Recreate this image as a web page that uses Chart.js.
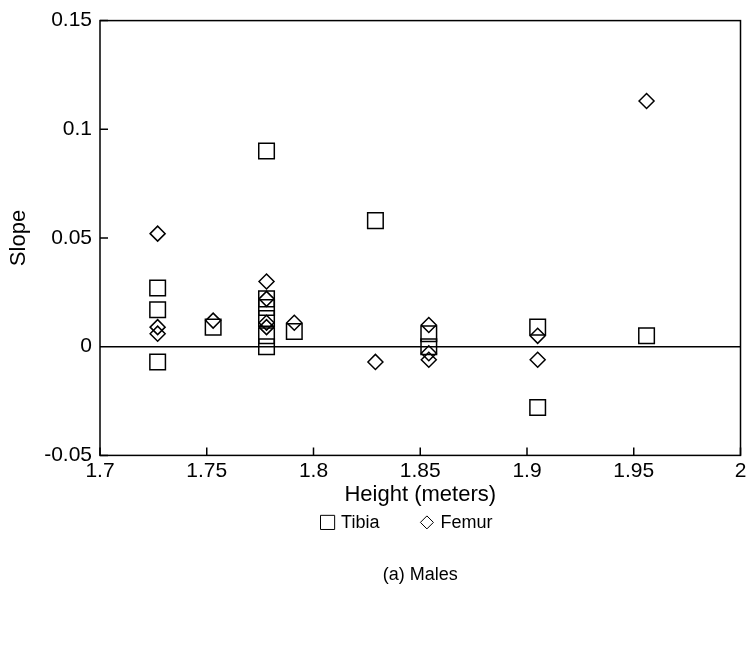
<!DOCTYPE html>
<html>
<head>
<meta charset="utf-8">
<script src="https://cdn.jsdelivr.net/npm/chart.js@4/dist/chart.umd.min.js"></script>
<style>
  html, body { margin: 0; padding: 0; background: #fff; }
  #wrap { position: relative; width: 753px; height: 645px; }
</style>
</head>
<body>
<div id="wrap"><canvas id="slopeChart" width="753" height="645"></canvas></div>
<script>
// heights (m) and regression slopes per bone
const tibiaHeight = [1.727, 1.727, 1.727, 1.753, 1.778, 1.778, 1.778, 1.778, 1.778, 1.778, 1.791, 1.829, 1.854, 1.854, 1.905, 1.905, 1.956];
const tibiaSlope  = [0.027, 0.017, -0.007, 0.009, 0.090, 0.022, 0.018, 0.013, 0.005, 0.000, 0.007, 0.058, 0.006, 0.000, 0.009, -0.028, 0.005];

const femurHeight = [1.727, 1.727, 1.727, 1.753, 1.778, 1.778, 1.778, 1.778, 1.791, 1.829, 1.854, 1.854, 1.854, 1.905, 1.905, 1.956];
const femurSlope  = [0.052, 0.009, 0.006, 0.012, 0.030, 0.022, 0.011, 0.009, 0.011, -0.007, 0.010, -0.003, -0.006, 0.005, -0.006, 0.113];

const xTicks = [1.7, 1.75, 1.8, 1.85, 1.9, 1.95, 2];
const yTicks = [-0.05, 0, 0.05, 0.1, 0.15];

const pts = (xs, ys) => xs.map((x, i) => ({ x, y: ys[i] }));
const FONT = 'Liberation Sans, Arial, sans-serif';

// box around the plot + short inward tick marks + zero line
const frame = {
  id: 'frame',
  beforeDatasetsDraw(chart) {
    const { ctx, chartArea: a, scales: { x, y } } = chart;
    ctx.save();
    ctx.strokeStyle = '#000';
    ctx.lineWidth = 1.5;
    ctx.strokeRect(a.left, a.top, a.width, a.height);
    ctx.beginPath();
    xTicks.forEach(v => {
      const px = x.getPixelForValue(v);
      ctx.moveTo(px, a.bottom); ctx.lineTo(px, a.bottom - 8);
    });
    yTicks.forEach(v => {
      const py = y.getPixelForValue(v);
      ctx.moveTo(a.left, py); ctx.lineTo(a.left + 8, py);
    });
    const zy = y.getPixelForValue(0);
    ctx.moveTo(a.left, zy); ctx.lineTo(a.right, zy);
    ctx.stroke();
    ctx.restore();
  }
};

// one-row legend under the axis title: small marker, short gap, label
const legendRow = {
  id: 'legendRow',
  afterDraw(chart) {
    const { ctx, chartArea: a } = chart;
    const sizes = { rect: 10, rectRot: 6.5 };
    const markW = 15, textGap = 6, itemGap = 40;
    const cy = a.bottom + 67;
    ctx.save();
    ctx.font = '18px ' + FONT;
    ctx.textBaseline = 'middle';
    const items = chart.data.datasets.map(d => ({ style: d.pointStyle, text: d.label }));
    const widths = items.map(it => markW + textGap + ctx.measureText(it.text).width);
    const total = widths.reduce((s, w) => s + w, 0) + itemGap * (items.length - 1);
    let x = (a.left + a.right) / 2 - 14 - total / 2;
    items.forEach((it, i) => {
      ctx.strokeStyle = '#000';
      ctx.fillStyle = 'rgba(0,0,0,0)';
      Chart.helpers.drawPoint(ctx, { pointStyle: it.style, radius: sizes[it.style], borderWidth: 1.4 }, x + markW / 2, cy);
      ctx.fillStyle = '#000';
      ctx.fillText(it.text, x + markW + textGap, cy + 1);
      x += widths[i] + itemGap;
    });
    ctx.restore();
  }
};

new Chart(document.getElementById('slopeChart'), {
  type: 'scatter',
  data: {
    datasets: [
      {
        label: 'Tibia',
        data: pts(tibiaHeight, tibiaSlope),
        pointStyle: 'rect',
        pointRadius: 11,
        borderColor: '#000',
        backgroundColor: 'rgba(0,0,0,0)',
        borderWidth: 1.5
      },
      {
        label: 'Femur',
        data: pts(femurHeight, femurSlope),
        pointStyle: 'rectRot',
        pointRadius: 7.5,
        borderColor: '#000',
        backgroundColor: 'rgba(0,0,0,0)',
        borderWidth: 1.5
      }
    ]
  },
  options: {
    responsive: false,
    animation: false,
    layout: { padding: { top: 19, right: 11, left: 0, bottom: 0 } },
    scales: {
      x: {
        type: 'linear',
        min: 1.7, max: 2,
        afterBuildTicks: s => { s.ticks = xTicks.map(v => ({ value: v })); },
        afterFit: s => { s.height = 53; },
        ticks: {
          color: '#000',
          font: { family: FONT, size: 21 },
          padding: 3,
          callback: v => String(+v.toFixed(2))
        },
        grid: { display: false, drawTicks: false },
        border: { display: false },
        title: {
          display: true,
          text: 'Height (meters)',
          color: '#000',
          font: { family: FONT, size: 22 },
          padding: { top: 0, bottom: 0 }
        }
      },
      y: {
        type: 'linear',
        min: -0.05, max: 0.15,
        afterBuildTicks: s => { s.ticks = yTicks.map(v => ({ value: v })); },
        afterFit: s => { s.width = 100; },
        ticks: {
          color: '#000',
          font: { family: FONT, size: 21 },
          padding: 8,
          callback: v => String(+v.toFixed(2))
        },
        grid: { display: false, drawTicks: false },
        border: { display: false },
        title: {
          display: true,
          text: 'Slope',
          color: '#000',
          font: { family: FONT, size: 22 },
          padding: { top: 6, bottom: 0 }
        }
      }
    },
    plugins: {
      legend: { display: false },
      title: {
        display: true,
        position: 'bottom',
        fullSize: false,
        text: '(a) Males',
        color: '#000',
        font: { family: FONT, size: 18, weight: 'normal' },
        padding: { top: 56, bottom: 59 }
      },
      tooltip: { enabled: false }
    }
  },
  plugins: [frame, legendRow]
});
</script>
</body>
</html>
